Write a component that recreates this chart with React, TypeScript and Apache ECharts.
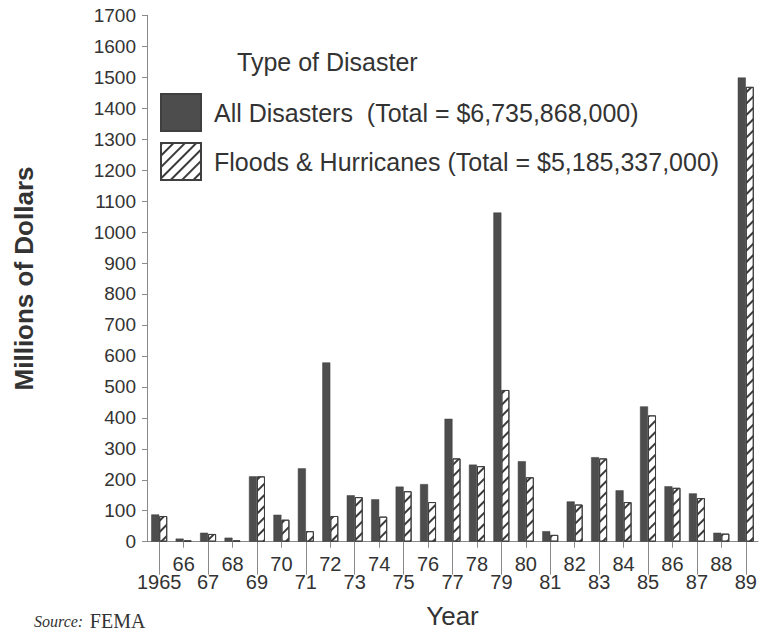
import React, { useEffect, useRef } from "react";
import * as echarts from "echarts";

const years = ["1965", "66", "67", "68", "69", "70", "71", "72", "73", "74", "75", "76", "77", "78", "79", "80", "81", "82", "83", "84", "85", "86", "87", "88", "89"];
const allDisasters = [88, 10, 29, 13, 211, 87, 237, 579, 150, 137, 178, 186, 397, 249, 1063, 260, 34, 130, 273, 166, 437, 179, 156, 29, 1499];
const floodsHurricanes = [83, 4, 25, 4, 211, 71, 34, 83, 144, 81, 163, 128, 269, 244, 490, 208, 22, 120, 269, 128, 408, 174, 141, 26, 1469];
const seriesNames = ["All Disasters", "Floods & Hurricanes"];
const legendLabels: Record<string, string> = {
  "All Disasters": "All Disasters  (Total = $6,735,868,000)",
  "Floods & Hurricanes": "Floods & Hurricanes (Total = $5,185,337,000)",
};
const yMin = 0;
const yMax = 1700;
const yInterval = 100;

const SANS = "'Liberation Sans', Arial, Helvetica, sans-serif";
const SERIF = "'Liberation Serif', 'Times New Roman', serif";
const TEXT = "#333";
const AXIS = "#8a8a8a";
const DARK = "#4d4d4d";

export default function App() {
  const ref = useRef<HTMLDivElement>(null);
  useEffect(() => {
    if (!ref.current) return;
    const chart = echarts.init(ref.current, null, { renderer: "svg" });
    const hatch = {
      symbol: "rect",
      symbolSize: 1,
      dashArrayX: [1, 0],
      dashArrayY: [1.4, 6],
      rotation: -Math.PI / 4,
      color: "#3a3a3a",
    };
    chart.setOption({
      animation: false,
      backgroundColor: "#fff",
      textStyle: { fontFamily: SANS, color: TEXT },
      title: {
        text: "Type of Disaster",
        left: 237,
        top: 49,
        padding: 0,
        textStyle: { fontFamily: SANS, fontSize: 25, fontWeight: "normal", color: TEXT },
      },
      legend: {
        orient: "vertical",
        left: 160,
        top: 93,
        padding: 0,
        itemWidth: 40,
        itemHeight: 37,
        itemGap: 10,
        icon: "rect",
        selectedMode: false,
        data: seriesNames,
        formatter: (n: string) => legendLabels[n] || n,
        textStyle: { fontFamily: SANS, fontSize: 25, color: TEXT, padding: [0, 0, 0, 8] },
      },
      grid: { left: 147, right: 4, top: 15.3, bottom: 90.3, containLabel: false, outerBoundsMode: "none" },
      xAxis: [
        {
          type: "category",
          data: years,
          boundaryGap: true,
          axisLine: { show: true, lineStyle: { color: AXIS, width: 1 } },
          axisTick: {
            show: true,
            alignWithLabel: true,
            interval: (i: number) => i % 2 === 0,
            length: 33,
            lineStyle: { color: AXIS, width: 1 },
          },
          axisLabel: {
            interval: (i: number) => i % 2 === 0,
            margin: 30,
            fontSize: 20,
            fontFamily: SANS,
            color: TEXT,
          },
          name: "Year",
          nameLocation: "middle",
          nameGap: 61,
          nameTextStyle: { fontFamily: SANS, fontSize: 26, lineHeight: 26, color: TEXT },
        },
        {
          type: "category",
          data: years,
          boundaryGap: true,
          position: "bottom",
          axisLine: { show: false },
          axisTick: {
            show: true,
            alignWithLabel: true,
            interval: (i: number) => i % 2 === 1,
            length: 6,
            lineStyle: { color: AXIS, width: 1 },
          },
          axisLabel: {
            interval: (i: number) => i % 2 === 1,
            margin: 12,
            fontSize: 20,
            fontFamily: SANS,
            color: TEXT,
          },
        },
      ],
      yAxis: {
        type: "value",
        min: yMin,
        max: yMax,
        interval: yInterval,
        axisLine: { show: true, lineStyle: { color: AXIS, width: 1 } },
        axisTick: { show: true, length: 5, lineStyle: { color: AXIS } },
        splitLine: { show: false },
        axisLabel: { fontSize: 19, fontFamily: SANS, color: TEXT, margin: 11, formatter: (v: number) => String(v) },
        name: "Millions of Dollars",
        nameLocation: "middle",
        nameRotate: 90,
        nameGap: 110,
        nameTextStyle: { fontFamily: SANS, fontSize: 26, fontWeight: "bold", color: TEXT },
      },
      series: [
        {
          name: seriesNames[0],
          type: "bar",
          xAxisIndex: 0,
          data: allDisasters,
          barWidth: 8,
          barGap: "0%",
          itemStyle: { color: DARK, borderColor: "#3f3f3f", borderWidth: 0.5 },
        },
        {
          name: seriesNames[1],
          type: "bar",
          xAxisIndex: 0,
          data: floodsHurricanes,
          barWidth: 8,
          barGap: "0%",
          itemStyle: { color: "#fff", borderColor: "#3f3f3f", borderWidth: 1, decal: hatch },
        },
      ],
      graphic: [
        {
          type: "text",
          left: 34,
          top: 611,
          style: {
            text: "{i|Source:}  {n|FEMA}",
            rich: {
              i: { fontFamily: SERIF, fontStyle: "italic", fontSize: 16, fill: TEXT },
              n: { fontFamily: SERIF, fontSize: 20, fill: TEXT },
            },
          },
        },
      ],
    });
    return () => chart.dispose();
  }, []);
  return <div ref={ref} style={{ position: "fixed", left: 0, top: 0, width: 762, height: 632 }} />;
}
